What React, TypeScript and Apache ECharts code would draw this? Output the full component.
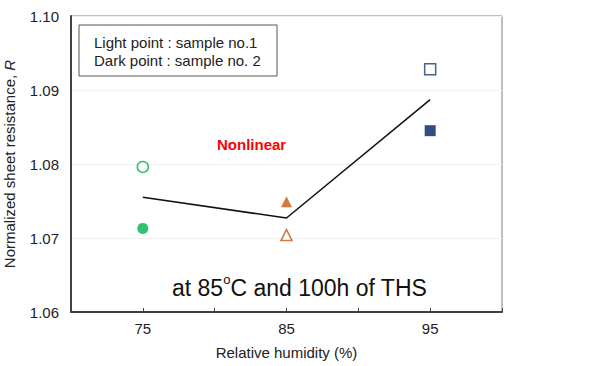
import React, { useEffect, useRef } from "react";
import * as echarts from "echarts";

const humidity = [75, 85, 95];
const sample1 = [1.0796, 1.0704, 1.0928]; // light (open) points
const sample2 = [1.0713, 1.0749, 1.0845]; // dark (filled) points
const trend = [1.0755, 1.0727, 1.0887];
const xLabels = [75, 85, 95];
const colors = ["#00b050", "#c55a11", "#1f3a6e"];
const darkColors = ["#00b050", "#c55a11", "#002060"];
const symbols = ["circle", "triangle", "rect"];

export default function App() {
  const ref = useRef<HTMLDivElement>(null);
  useEffect(() => {
    const chart = echarts.init(ref.current!, null, { renderer: "svg" });
    const font = "'Liberation Sans', Arial, sans-serif";
    const series: any[] = [];
    humidity.forEach((h, i) => {
      series.push({
        type: "scatter",
        data: [[h, sample1[i]]],
        symbol: symbols[i],
        symbolSize: 11,
        itemStyle: { color: "#ffffff", borderColor: colors[i], borderWidth: 1.5 },
        z: 5,
      });
      series.push({
        type: "scatter",
        data: [[h, sample2[i]]],
        symbol: symbols[i],
        symbolSize: 11,
        itemStyle: { color: darkColors[i] },
        z: 5,
      });
    });
    series.push({
      type: "line",
      data: humidity.map((h, i) => [h, trend[i]]),
      showSymbol: false,
      symbol: "none",
      lineStyle: { color: "#111", width: 1.5 },
      z: 4,
    });
    chart.setOption({
      animation: false,
      grid: {
        left: 71,
        right: 89,
        top: 16,
        bottom: 54,
        containLabel: false,
        outerBoundsMode: "none",
        show: true,
        borderColor: "#808080",
        borderWidth: 1,
      },
      xAxis: {
        type: "value",
        min: 70,
        max: 100,
        interval: 5,
        name: "Relative humidity (%)",
        nameLocation: "middle",
        nameGap: 33,
        nameTextStyle: { fontFamily: font, fontSize: 15, color: "#222" },
        axisLine: { lineStyle: { color: "#404040", width: 2 } },
        axisTick: { show: true, inside: true, length: 4, lineStyle: { color: "#404040" } },
        axisLabel: {
          margin: 9,
          fontFamily: font,
          fontSize: 15,
          color: "#222",
          formatter: (v: number) => (xLabels.includes(v) ? String(v) : ""),
        },
        splitLine: { show: false },
      },
      yAxis: {
        type: "value",
        min: 1.06,
        max: 1.1,
        interval: 0.01,
        name: "Normalized sheet resistance, {i|R}",
        nameLocation: "middle",
        nameGap: 54,
        nameRotate: 90,
        nameTextStyle: {
          fontFamily: font,
          fontSize: 15,
          color: "#222",
          rich: { i: { fontStyle: "italic", fontFamily: font, fontSize: 15, color: "#222" } },
        },
        axisLine: { show: true, lineStyle: { color: "#404040", width: 2 } },
        axisTick: { show: false },
        axisLabel: {
          margin: 12,
          fontFamily: font,
          fontSize: 15,
          color: "#222",
          formatter: (v: number) => v.toFixed(2),
        },
        splitLine: { show: true, lineStyle: { color: "#f0f0f0", width: 1 } },
      },
      graphic: [
        {
          type: "rect",
          shape: { x: 79, y: 25, width: 198, height: 51 },
          style: { fill: "#ffffff", stroke: "#555", lineWidth: 1 },
          z: 10,
        },
        {
          type: "text",
          x: 94,
          y: 42,
          style: { text: "Light point : sample no.1", font: `15px ${font}`, fill: "#222", verticalAlign: "middle" },
          z: 11,
        },
        {
          type: "text",
          x: 94,
          y: 60,
          style: { text: "Dark point : sample no. 2", font: `15px ${font}`, fill: "#222", verticalAlign: "middle" },
          z: 11,
        },
        {
          type: "text",
          x: 217,
          y: 144,
          style: { text: "Nonlinear", font: `bold 15px ${font}`, fill: "#ff0000", verticalAlign: "middle" },
          z: 11,
        },
        {
          type: "text",
          x: 172,
          y: 286,
          style: {
            text: "{a|at 85}{o|o}{a|C and 100h of THS}",
            verticalAlign: "middle",
            rich: {
              a: { fontFamily: font, fontSize: 23, fill: "#111", color: "#111", lineHeight: 26, verticalAlign: "bottom" },
              o: { fontFamily: font, fontSize: 13, fill: "#111", color: "#111", lineHeight: 26, verticalAlign: "top" },
            },
          },
          z: 11,
        },
      ],
      series,
    });
    return () => chart.dispose();
  }, []);
  return <div ref={ref} style={{ width: 591, height: 366, position: "absolute", left: 0, top: 0 }} />;
}
